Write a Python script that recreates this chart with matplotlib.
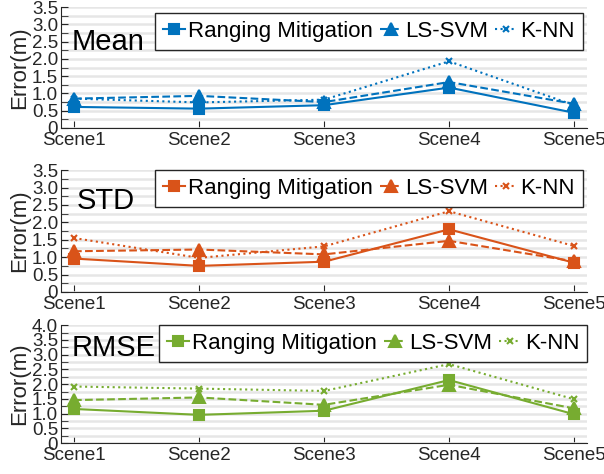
import numpy as np
import matplotlib
matplotlib.use('Agg')
import matplotlib.pyplot as plt
from matplotlib.ticker import MultipleLocator

plt.rcParams['font.family'] = ['Liberation Sans Narrow', 'Liberation Sans', 'DejaVu Sans']

# Data
scenes = ['Scene1', 'Scene2', 'Scene3', 'Scene4', 'Scene5']
methods = ['Ranging Mitigation', 'LS-SVM', 'K-NN']

mean_ranging = [0.61, 0.56, 0.66, 1.17, 0.44]
mean_lssvm = [0.85, 0.93, 0.75, 1.33, 0.70]
mean_knn = [0.85, 0.74, 0.82, 1.93, 0.66]

std_ranging = [0.96, 0.75, 0.87, 1.80, 0.84]
std_lssvm = [1.17, 1.22, 1.08, 1.47, 0.88]
std_knn = [1.55, 0.98, 1.31, 2.32, 1.32]

rmse_ranging = [1.16, 0.96, 1.10, 2.14, 0.98]
rmse_lssvm = [1.46, 1.55, 1.30, 1.98, 1.18]
rmse_knn = [1.92, 1.85, 1.77, 2.68, 1.49]

panel_titles = ['Mean', 'STD', 'RMSE']
panel_colors = ['#0072BD', '#D95319', '#77AC30']
panel_ymax = [3.5, 3.5, 4.0]
panel_data = [
    [mean_ranging, mean_lssvm, mean_knn],
    [std_ranging, std_lssvm, std_knn],
    [rmse_ranging, rmse_lssvm, rmse_knn],
]

# Layout (figure fractions)
axes_rects = [
    [0.101, 0.730, 0.871, 0.255],
    [0.101, 0.384, 0.871, 0.257],
    [0.101, 0.065, 0.871, 0.249],
]
title_pos = [(0.021, 0.71), (0.03, 0.75), (0.021, 0.81)]
legend_anchor = [(0.992, 0.95), (0.992, 1.0), (1.0, 1.0)]

line_styles = ['-', '--', ':']
marker_styles = ['s', '^', 'x']
marker_sizes = [6.5, 8.5, 5]

fig = plt.figure(figsize=(6.04, 4.74), dpi=100)
x = np.arange(1, len(scenes) + 1)

for p in range(3):
    ax = fig.add_axes(axes_rects[p])
    color = panel_colors[p]
    for k in range(3):
        ax.plot(x, panel_data[p][k], linestyle=line_styles[k], marker=marker_styles[k],
                markersize=marker_sizes[k], markeredgewidth=1.5, color=color,
                linewidth=1.5, label=methods[k])

    ax.set_xlim(0.896, 5.104)
    ax.set_ylim(0, panel_ymax[p])
    ax.set_xticks(x)
    ax.set_xticklabels(scenes)
    yt = np.arange(0, panel_ymax[p] + 0.01, 0.5)
    ax.set_yticks(yt)
    ax.set_yticklabels(['0'] + ['%.1f' % v for v in yt[1:]])
    ax.yaxis.set_minor_locator(MultipleLocator(0.25))
    ax.grid(True, which='both', axis='y', color='#e6e6e6', linewidth=1.8)
    ax.set_axisbelow(True)
    ax.spines['top'].set_visible(False)
    ax.spines['right'].set_visible(False)
    ax.spines['left'].set_color('#262626')
    ax.spines['bottom'].set_color('#262626')
    ax.tick_params(axis='both', which='both', direction='in', labelsize=13.5, colors='#262626')
    ax.tick_params(axis='both', which='major', length=5)
    ax.tick_params(axis='y', which='minor', length=5)
    ax.tick_params(axis='x', pad=3)
    ax.tick_params(axis='y', pad=2)
    ax.set_ylabel('Error(m)', fontsize=16, color='#262626', labelpad=1)

    ax.text(title_pos[p][0], title_pos[p][1], panel_titles[p], transform=ax.transAxes,
            fontsize=21, va='center', ha='left')

    leg = ax.legend(loc='upper right', bbox_to_anchor=legend_anchor[p], ncol=3,
                    fontsize=16, handlelength=1.0, handletextpad=0.15, columnspacing=0.3,
                    borderpad=0.35, borderaxespad=0, fancybox=False, edgecolor='#262626',
                    framealpha=1)
    leg.get_frame().set_linewidth(1)

fig.savefig('out.png', dpi=100)
